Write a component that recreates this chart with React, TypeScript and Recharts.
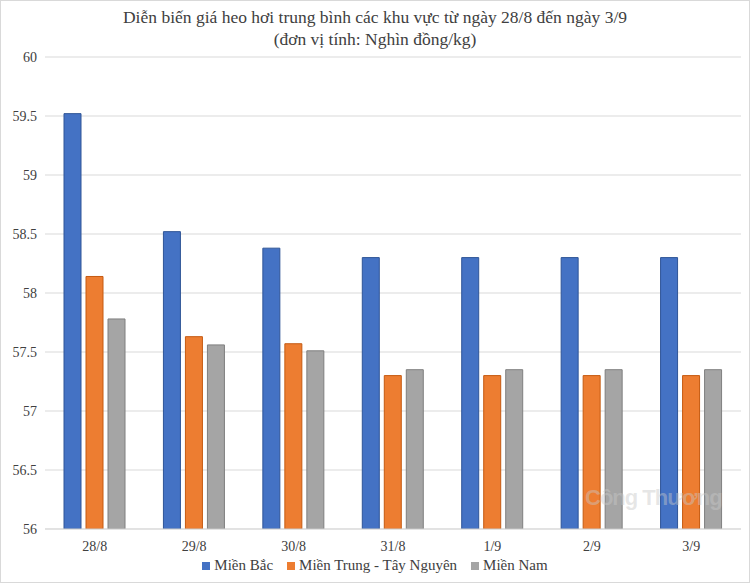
import { BarChart, Bar, XAxis, YAxis, CartesianGrid } from "recharts";

const days = ["28/8", "29/8", "30/8", "31/8", "1/9", "2/9", "3/9"];
const mienBac = [59.52, 58.52, 58.38, 58.3, 58.3, 58.3, 58.3];
const mienTrung = [58.14, 57.63, 57.57, 57.3, 57.3, 57.3, 57.3];
const mienNam = [57.78, 57.56, 57.51, 57.35, 57.35, 57.35, 57.35];
const yTicks = [56, 56.5, 57, 57.5, 58, 58.5, 59, 59.5, 60];

const series = [
  { key: "bac", name: "Miền Bắc", fill: "#4472C4", stroke: "#2F5597" },
  { key: "trung", name: "Miền Trung - Tây Nguyên", fill: "#ED7D31", stroke: "#C55A11" },
  { key: "nam", name: "Miền Nam", fill: "#A5A5A5", stroke: "#7F7F7F" },
];

const data = days.map((d, i) => ({
  day: d,
  bac: mienBac[i],
  trung: mienTrung[i],
  nam: mienNam[i],
}));

const font = "'Liberation Serif', 'DejaVu Serif', serif";

export default function App() {
  return (
    <div
      style={{
        position: "fixed",
        left: 0,
        top: 0,
        width: 748,
        height: 581,
        border: "1px solid #d9d9d9",
        background: "#fff",
        fontFamily: font,
        overflow: "hidden",
      }}
    >
      <div
        style={{
          position: "absolute",
          top: 5,
          left: 0,
          width: 748,
          textAlign: "center",
          fontSize: 17.5,
          lineHeight: "22px",
          color: "#404040",
        }}
      >
        Diễn biến giá heo hơi trung bình các khu vực từ ngày 28/8 đến ngày 3/9
        <br />
        (đơn vị tính: Nghìn đồng/kg)
      </div>
      <BarChart
        width={748}
        height={581}
        data={data}
        margin={{ top: 56, right: 8, left: 0, bottom: 23 }}
        barGap={5}
        barCategoryGap={20}
      >
        <CartesianGrid vertical={false} stroke="#d9d9d9" />
        <XAxis
          dataKey="day"
          axisLine={{ stroke: "#d9d9d9" }}
          tickLine={false}
          tick={{ fontSize: 14, fill: "#404040", fontFamily: font, dy: 4 }}
          height={30}
        />
        <YAxis
          domain={[56, 60]}
          ticks={yTicks}
          allowDataOverflow
          axisLine={false}
          tickLine={false}
          width={44}
          tick={{ fontSize: 14, fill: "#404040", fontFamily: font }}
        />
        {series.map((s) => (
          <Bar
            key={s.key}
            dataKey={s.key}
            name={s.name}
            fill={s.fill}
            stroke={s.stroke}
            strokeWidth={1}
            barSize={17}
            isAnimationActive={false}
          />
        ))}
      </BarChart>
      <div
        style={{
          position: "absolute",
          top: 556,
          left: 0,
          width: 748,
          display: "flex",
          justifyContent: "center",
          gap: 14,
          fontSize: 15,
          color: "#404040",
        }}
      >
        {series.map((s) => (
          <span key={s.key} style={{ display: "flex", alignItems: "center" }}>
            <span
              style={{
                display: "inline-block",
                width: 8,
                height: 8,
                background: s.fill,
                marginRight: 4,
              }}
            />
            {s.name}
          </span>
        ))}
      </div>
      <div
        style={{
          position: "absolute",
          left: 584,
          top: 484,
          fontSize: 22,
          whiteSpace: "nowrap",
          color: "rgba(200,200,200,0.45)",
          fontFamily: "'Liberation Sans', sans-serif",
          fontWeight: 700,
          letterSpacing: -1,
        }}
      >
        Công Thương
      </div>
    </div>
  );
}
